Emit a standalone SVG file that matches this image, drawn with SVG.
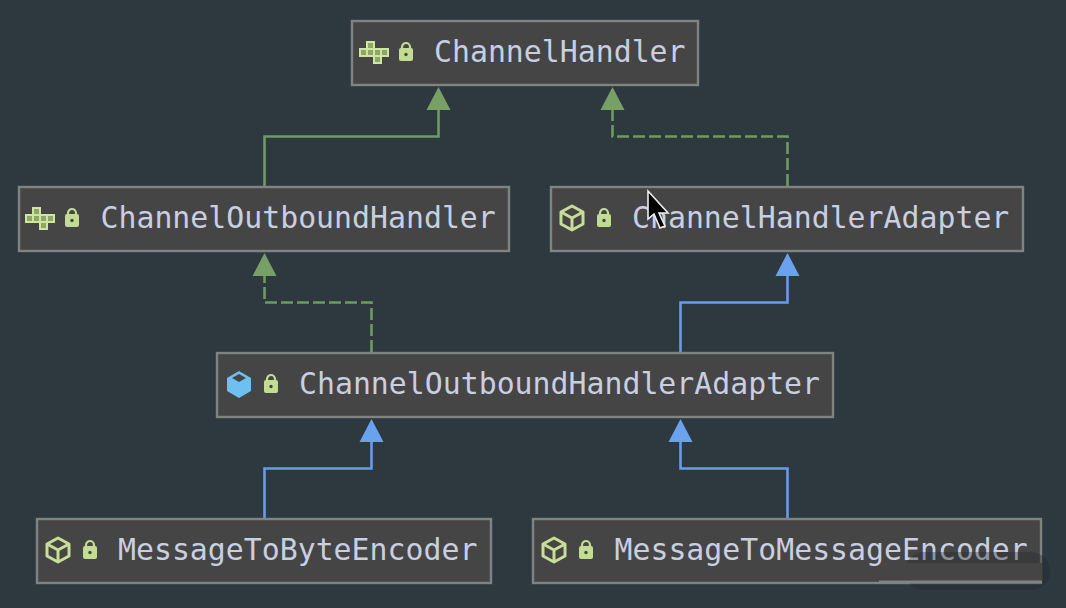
<svg xmlns="http://www.w3.org/2000/svg" width="1066" height="608" viewBox="0 0 1066 608">
<style>
.box{fill:#454545;stroke:#7f8381;stroke-width:2.4}
.lbl{font-family:"DejaVu Sans Mono","Liberation Mono",monospace;font-size:29.85px;fill:#c9cfe0}
.edge{fill:none;stroke-width:2.6}
.g{stroke:#6f9a62}.b{stroke:#679ce8}
.dash{stroke-dasharray:12 4}
.tg{fill:#76a065}.tb{fill:#6aa2ee}
.ico{fill:none;stroke:#c8de98;stroke-width:3;stroke-linejoin:round}
.lock{fill:#c3dc93}
</style>
<defs>
<g id="lock">
<path class="lock" d="M2 6h10a2 2 0 0 1 2 2v9a2 2 0 0 1-2 2H2a2 2 0 0 1-2-2V8a2 2 0 0 1 2-2z"/>
<path d="M3 7V5a4 4 0 0 1 8 0v1" fill="none" stroke="#c3dc93" stroke-width="2.2"/>
<circle cx="7" cy="12.5" r="1.7" fill="#454545"/>
</g>
<g id="iface" style="fill:#8ea56c;stroke:#cfe6a0;stroke-width:2;stroke-linejoin:miter">
<rect x="1" y="8" width="7" height="7"/><rect x="8" y="8" width="7" height="7"/><rect x="15" y="8" width="7" height="7"/><rect x="22" y="8" width="7" height="7"/>
<rect x="8" y="1" width="7" height="7"/><rect x="15" y="15" width="7" height="7"/>
</g>
<g id="cube" class="ico">
<path d="M0-12L11-6V6L0 12L-11 6V-6z"/><path d="M-11-6L0 0L11-6M0 0V12"/>
</g>
</defs>
<rect width="1066" height="608" fill="#2e393f"/>
<g id="connectors">
<path class="edge g" d="M264.5 187V136.5H438.5V108"/>
<path class="tg" d="M438.5 87L450.5 110H426.5z"/>
<path class="edge g dash" d="M787.5 186V136.5H612.5V108"/>
<path class="tg" d="M612.5 87L624.5 110H600.5z"/>
<path class="edge g dash" d="M371.5 352V302.5H264.5V274"/>
<path class="tg" d="M264.5 253L276.5 276H252.5z"/>
<path class="edge b" d="M680.5 353V302.5H787.5V274"/>
<path class="tb" d="M787.5 253L799.5 276H775.5z"/>
<path class="edge b" d="M264.5 519V468.5H371.5V440"/>
<path class="tb" d="M371.5 419L383.5 442H359.5z"/>
<path class="edge b" d="M787.5 519V468.5H680.5V440"/>
<path class="tb" d="M680.5 419L692.5 442H668.5z"/>
</g>
<g id="ChannelHandler">
<rect class="box" x="352" y="21" width="346" height="64"/>
<use href="#iface" x="359" y="41"/><use href="#lock" x="399" y="42"/>
<text class="lbl" x="434" y="62">ChannelHandler</text>
</g>
<g id="ChannelOutboundHandler">
<rect class="box" x="19" y="187" width="490" height="64"/>
<use href="#iface" x="25" y="207"/><use href="#lock" x="65" y="208"/>
<text class="lbl" x="100.5" y="228">ChannelOutboundHandler</text>
</g>
<g id="ChannelHandlerAdapter">
<rect class="box" x="551" y="187" width="472" height="64"/>
<use href="#cube" x="572" y="218"/><use href="#lock" x="597" y="208"/>
<text class="lbl" x="632" y="228">ChannelHandlerAdapter</text>
</g>
<g id="ChannelOutboundHandlerAdapter">
<rect class="box" x="217" y="353" width="616" height="64"/>
<path d="M239 371L251 378V391L239 398L227 391V378z" fill="#6cc0f2"/>
<path d="M239 374L246 378L239 382L232 378z" fill="#454545"/>
<use href="#lock" x="264" y="374"/>
<text class="lbl" x="299" y="394">ChannelOutboundHandlerAdapter</text>
</g>
<g id="MessageToByteEncoder">
<rect class="box" x="37" y="519" width="454" height="64"/>
<use href="#cube" x="58" y="550"/><use href="#lock" x="83" y="540"/>
<text class="lbl" x="118" y="560">MessageToByteEncoder</text>
</g>
<g id="MessageToMessageEncoder">
<rect class="box" x="533" y="519" width="508" height="64"/>
<use href="#cube" x="554" y="550"/><use href="#lock" x="579" y="540"/>
<text class="lbl" x="614.5" y="560">MessageToMessageEncoder</text>
</g>
<g id="cursor">
<path d="M648 191V219L654 214L660 228L665 226L659 213H668z" fill="#000" stroke="#eee" stroke-width="1.6"/>
</g>
<g id="overlay">
<rect x="905" y="552" width="145" height="38" rx="19" fill="#20262b" opacity=".35"/>
<rect x="905" y="563" width="137" height="18" fill="#454545"/>
<rect x="879" y="580.5" width="163" height="3" fill="#7f8381"/>
</g>
</svg>
